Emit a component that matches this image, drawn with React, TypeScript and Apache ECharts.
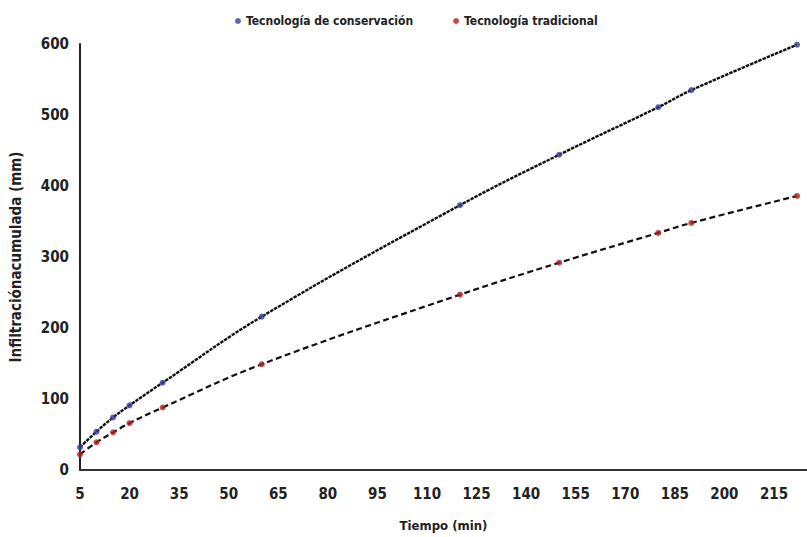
import React, { useEffect, useRef } from "react";
import * as echarts from "echarts";

const tiempo = [5, 10, 15, 20, 30, 60, 120, 150, 180, 190, 222];
const conservacion = [32, 54, 74, 91, 123, 216, 373, 444, 511, 535, 599];
const tradicional = [22, 39, 53, 66, 88, 149, 247, 292, 334, 348, 386];
const serieNames = ["Tecnología de conservación", "Tecnología tradicional"];
const xAxisName = "Tiempo (min)";
const yAxisName = "Infiltraciónacumulada (mm)";

const FONT = "'Liberation Sans Narrow', 'DejaVu Sans Condensed', sans-serif";

export default function App() {
  const ref = useRef<HTMLDivElement>(null);
  useEffect(() => {
    document.body.style.margin = "0";
    const chart = echarts.init(ref.current!, null, { renderer: "svg" });
    const pts = (ys: number[]) => tiempo.map((t, i) => [t, ys[i]]);
    chart.setOption({
      animation: false,
      backgroundColor: "#ffffff",
      textStyle: { fontFamily: FONT },
      legend: {
        data: serieNames,
        top: 10,
        left: 230,
        itemGap: 40,
        itemWidth: 6,
        itemHeight: 6,
        icon: "circle",
        textStyle: { fontFamily: FONT, fontWeight: "bold", fontSize: 12, color: "#222" },
      },
      grid: { left: 77, right: 0, top: 44, bottom: 65, containLabel: false },
      xAxis: {
        type: "value",
        min: 5,
        max: 225,
        interval: 15,
        name: xAxisName,
        nameLocation: "middle",
        nameGap: 49,
        nameTextStyle: { fontFamily: FONT, fontWeight: "bold", fontSize: 13, color: "#222" },
        axisLine: { show: true, lineStyle: { color: "#333", width: 2 } },
        axisTick: { show: false },
        splitLine: { show: false },
        axisLabel: {
          margin: 16,
          fontFamily: FONT,
          fontWeight: "bold",
          fontSize: 15,
          color: "#222",
          showMaxLabel: false,
        },
      },
      yAxis: {
        type: "value",
        min: 0,
        max: 600,
        interval: 100,
        name: yAxisName,
        nameLocation: "middle",
        nameGap: 57,
        nameTextStyle: { fontFamily: FONT, fontWeight: "bold", fontSize: 15, color: "#222" },
        axisLine: { show: true, lineStyle: { color: "#222", width: 2 } },
        axisTick: { show: false },
        splitLine: { show: false },
        axisLabel: {
          margin: 11,
          fontFamily: FONT,
          fontWeight: "bold",
          fontSize: 15,
          color: "#222",
        },
      },
      series: [
        {
          name: "trend1",
          type: "line",
          data: pts(conservacion),
          smooth: 0.4,
          symbol: "none",
          lineStyle: { color: "#111", width: 2.4, type: [3.5, 1] },
          z: 2,
          silent: true,
        },
        {
          name: "trend2",
          type: "line",
          data: pts(tradicional),
          smooth: 0.4,
          symbol: "none",
          lineStyle: { color: "#111", width: 2.2, type: [6, 3.5] },
          z: 2,
          silent: true,
        },
        {
          name: serieNames[0],
          type: "scatter",
          data: pts(conservacion),
          symbol: "circle",
          symbolSize: 6,
          itemStyle: { color: "#3a3d9c" },
          z: 3,
        },
        {
          name: serieNames[1],
          type: "scatter",
          data: pts(tradicional),
          symbol: "circle",
          symbolSize: 6,
          itemStyle: { color: "#b01f1f" },
          z: 3,
        },
      ],
    });
    return () => chart.dispose();
  }, []);
  return <div ref={ref} style={{ width: 807, height: 537 }} />;
}
